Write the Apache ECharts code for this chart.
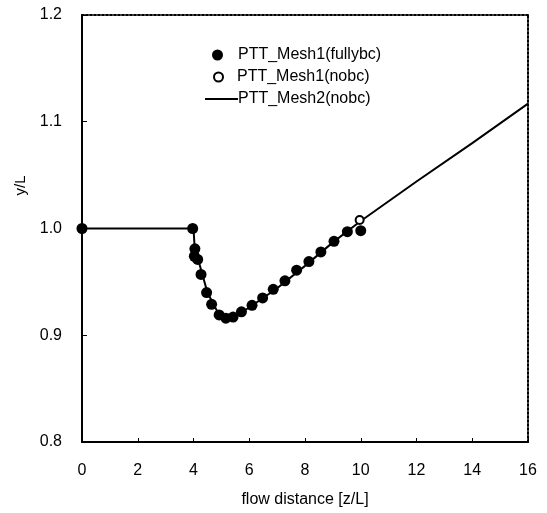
<!DOCTYPE html>
<html>
<head>
<meta charset="utf-8">
<script src="https://cdn.jsdelivr.net/npm/echarts@6/dist/echarts.min.js"></script>
<style>
  html, body { margin: 0; padding: 0; background: #fff; }
  #chart { width: 547px; height: 513px; }
</style>
</head>
<body>
<div id="chart"></div>
<script>
// PTT_Mesh1(fullybc) - filled dots
const fullyX = [0, 3.97, 4.05, 4.03, 4.15, 4.27, 4.47, 4.65, 4.92, 5.16, 5.42, 5.72, 6.10, 6.48, 6.86, 7.28, 7.70, 8.14, 8.57, 9.04, 9.52, 10.0];
const fullyY = [1.0, 1.0, 0.981, 0.974, 0.971, 0.957, 0.940, 0.929, 0.919, 0.916, 0.917, 0.922, 0.928, 0.935, 0.943, 0.951, 0.961, 0.969, 0.978, 0.988, 0.997, 0.998];
// PTT_Mesh1(nobc) - open circle
const nobcX = [9.96];
const nobcY = [1.008];
// PTT_Mesh2(nobc) - solid line
const mesh2X = [0, 4.0, 4.05, 4.2, 4.5, 4.9, 5.2, 5.5, 6.0, 7.0, 8.0, 9.0, 10.0, 12.0, 14.0, 16.0];
const mesh2Y = [1.0, 1.0, 0.978, 0.968, 0.940, 0.920, 0.916, 0.918, 0.926, 0.944, 0.965, 0.987, 1.007, 1.044, 1.080, 1.117];

const zip = (xs, ys) => xs.map((x, i) => [x, ys[i]]);
const font = 'Liberation Sans';
const legendText = { fontFamily: font, fontSize: 16, color: '#000' };

let myChart = echarts.init(document.getElementById('chart'));
myChart.setOption({
  animation: false,
  backgroundColor: '#fff',
  grid: { left: 82, right: 19, top: 15, bottom: 71 },
  legend: [{
    left: 207,
    top: 42,
    itemWidth: 11,
    itemHeight: 11,
    textStyle: Object.assign({ padding: [0, 0, 0, 10] }, legendText),
    data: ['PTT_Mesh1(fullybc)']
  }, {
    left: 208,
    top: 64,
    itemWidth: 9,
    itemHeight: 9,
    textStyle: Object.assign({ padding: [0, 0, 0, 9] }, legendText),
    data: ['PTT_Mesh1(nobc)']
  }, {
    left: 200,
    top: 86,
    itemWidth: 33,
    itemHeight: 2,
    textStyle: Object.assign({ padding: [0, 0, 0, -5] }, legendText),
    data: [{ name: 'PTT_Mesh2(nobc)', icon: 'rect' }]
  }],
  xAxis: [{
    type: 'value',
    min: 0, max: 16, interval: 2,
    name: 'flow distance [z/L]',
    nameLocation: 'middle',
    nameGap: 50,
    nameTextStyle: { fontFamily: font, fontSize: 16, color: '#000' },
    axisLine: { onZero: false, lineStyle: { color: '#000', width: 2 } },
    axisTick: { inside: true, length: 4, lineStyle: { color: '#000' } },
    axisLabel: { fontFamily: font, fontSize: 16, color: '#000', margin: 21 },
    splitLine: { show: false }
  }, {
    type: 'value',
    position: 'top',
    min: 0, max: 16,
    axisLine: { show: true, onZero: false, lineStyle: { color: '#000', width: 2, type: 'dotted' } },
    axisTick: { show: false },
    axisLabel: { show: false },
    splitLine: { show: false }
  }],
  yAxis: [{
    type: 'value',
    min: 0.8, max: 1.2, interval: 0.1,
    name: 'y/L',
    nameLocation: 'middle',
    nameGap: 46,
    nameRotate: 90,
    nameTextStyle: { fontFamily: font, fontSize: 15, color: '#000', padding: [0, 0, 0, 86] },
    axisLine: { show: true, onZero: false, lineStyle: { color: '#000', width: 2 } },
    axisTick: { show: true, inside: true, length: 5, lineStyle: { color: '#000' } },
    axisLabel: { fontFamily: font, fontSize: 16, color: '#000', margin: 20, formatter: v => v.toFixed(1) },
    splitLine: { show: false }
  }, {
    type: 'value',
    position: 'right',
    min: 0.8, max: 1.2,
    axisLine: { show: true, onZero: false, lineStyle: { color: '#000', width: 2, type: 'dotted' } },
    axisTick: { show: false },
    axisLabel: { show: false },
    splitLine: { show: false }
  }],
  series: [{
    name: 'PTT_Mesh2(nobc)',
    type: 'line',
    symbol: 'none',
    data: zip(mesh2X, mesh2Y),
    lineStyle: { color: '#000', width: 2 },
    itemStyle: { color: '#000' },
    z: 1
  }, {
    name: 'PTT_Mesh1(fullybc)',
    type: 'scatter',
    symbol: 'circle',
    symbolSize: 11,
    data: zip(fullyX, fullyY),
    itemStyle: { color: '#000', opacity: 1 },
    z: 2
  }, {
    name: 'PTT_Mesh1(nobc)',
    type: 'scatter',
    symbol: 'circle',
    symbolSize: 8,
    data: zip(nobcX, nobcY),
    itemStyle: { color: '#fff', borderColor: '#000', borderWidth: 2, opacity: 1 },
    z: 3
  }]
});

window.addEventListener('resize', function() {
  myChart.resize();
});
</script>
</body>
</html>
